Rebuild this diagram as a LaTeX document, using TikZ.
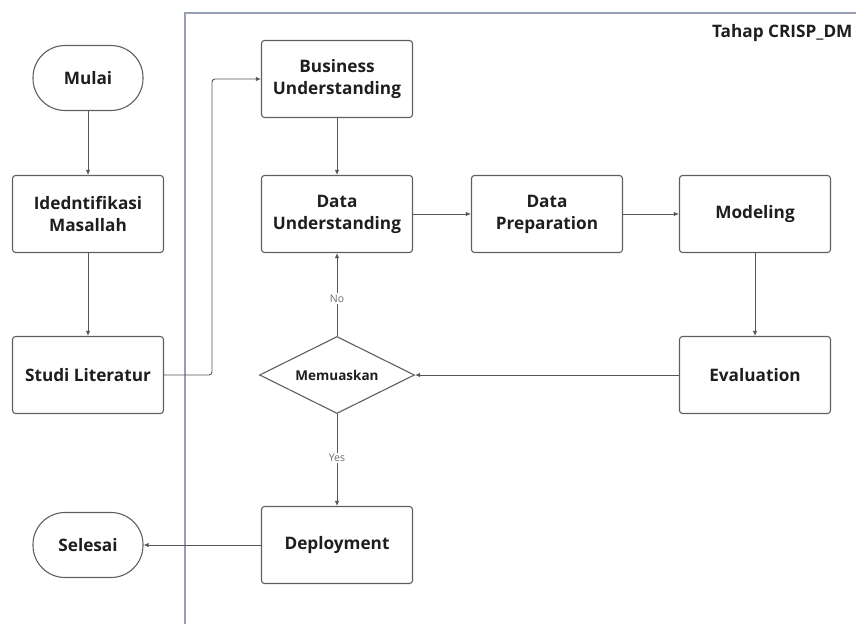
\documentclass[tikz,border=0pt]{standalone}
\usepackage{fontspec}
\setmainfont{Open Sans}
\usetikzlibrary{arrows.meta,shapes.geometric}

\begin{document}
\begin{tikzpicture}[x=1pt,y=1pt,yscale=-1,
  prosesbox/.style={draw={rgb,255:red,95;green,95;blue,95}, line width=1.1pt, rounded corners=3pt,
    minimum width=151pt, minimum height=77pt, align=center,
    font=\fontsize{17.2}{22}\selectfont\bfseries, text={rgb,255:red,30;green,30;blue,30}},
  terminal/.style={prosesbox, rounded corners=32pt, minimum width=110pt, minimum height=65pt},
  keputusan/.style={draw={rgb,255:red,95;green,95;blue,95}, line width=1.1pt, diamond, shape aspect=2, inner sep=0pt,
    minimum width=155pt, minimum height=77pt,
    font=\fontsize{13.5}{16}\selectfont\bfseries, text={rgb,255:red,30;green,30;blue,30}},
  panah/.style={draw={rgb,255:red,85;green,85;blue,85}, line width=0.9pt, -{Latex[length=5pt,width=4.5pt]}},
  ketlabel/.style={fill=white, inner sep=1.5pt, font=\fontsize{10.5}{12}\selectfont, text={rgb,255:red,110;green,110;blue,110}}]
\useasboundingbox (0,0) rectangle (856,624);

% Frame Tahap CRISP_DM
\draw [draw={rgb,255:red,150;green,160;blue,178}, line width=1.1pt] (856,13) -- (185,13) -- (185,624) ;
\node (judul) [anchor=east, font=\fontsize{17.2}{20}\selectfont\bfseries, text={rgb,255:red,30;green,30;blue,30}] at (856,33) {Tahap CRISP\_DM};

% Text Node
\node (mulai) [terminal] at (88,78) {Mulai};
% Text Node
\node (identifikasi) [prosesbox] at (88,214) {Idedntifikasi\\Masallah};
% Text Node
\node (studi) [prosesbox] at (88,375) {Studi Literatur};
% Text Node
\node (selesai) [terminal] at (88,545) {Selesai};

% Text Node
\node (bisnis) [prosesbox] at (337,79) {Business\\Understanding};
% Text Node
\node (datau) [prosesbox] at (337,214) {Data\\Understanding};
% Text Node
\node (datap) [prosesbox] at (547,214) {Data\\Preparation};
% Text Node
\node (modeling) [prosesbox] at (755,214) {Modeling};
% Text Node
\node (evaluasi) [prosesbox] at (755,375) {Evaluation};
% Decision
\node (puas) [keputusan] at (337,375) {Memuaskan};
% Text Node
\node (deploy) [prosesbox] at (337,545) {Deployment};

%Straight Lines
\draw [panah] (mulai) -- (identifikasi) ;
\draw [panah] (identifikasi) -- (studi) ;
\coordinate (belok) at (212,375);
\draw [panah, rounded corners=3pt] (studi.east) -- (belok) |- (bisnis.west) ;
\draw [panah] (bisnis) -- (datau) ;
\draw [panah] (datau) -- (datap) ;
\draw [panah] (datap) -- (modeling) ;
\draw [panah] (modeling) -- (evaluasi) ;
\draw [panah] (evaluasi) -- (puas.east) ;
\draw [panah] (puas.north) -- node [ketlabel, pos=0.45] {No} (datau) ;
\draw [panah] (puas.south) -- node [ketlabel, pos=0.48] {Yes} (deploy) ;
\draw [panah] (deploy) -- (selesai) ;

\end{tikzpicture}
\end{document}
